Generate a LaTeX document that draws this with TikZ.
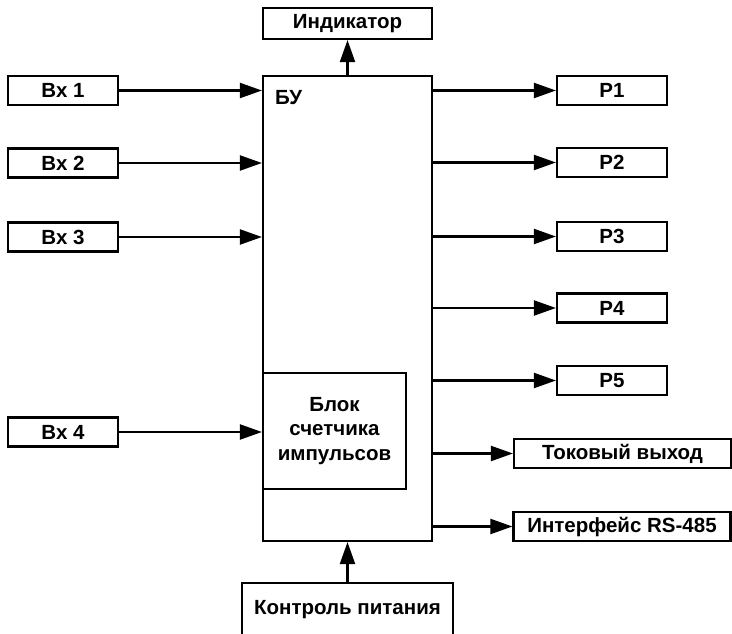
\documentclass[tikz,border=0pt]{standalone}
\usepackage{fontspec}
\setmainfont{Liberation Sans}
\usetikzlibrary{arrows.meta}
\begin{document}
\begin{tikzpicture}[x=1pt,y=-1pt,
  box/.style={draw,line width=2.2pt,inner sep=0pt,font=\fontsize{20.5}{24}\selectfont\bfseries},
  arr/.style={line width=2.2pt,-{Triangle[length=22pt,width=15pt]}}]
\useasboundingbox (0,0) rectangle (732,634);
% main block
\node[box,minimum width=169pt,minimum height=465pt] (bu) at (347.5,308.5) {};
\node[anchor=north west,inner sep=0pt,font=\fontsize{20.5}{24}\selectfont\bfseries] (bul) at (275,90) {БУ};
\node[box,minimum width=143pt,minimum height=116pt,align=center,font=\fontsize{20.5}{24.5}\selectfont\bfseries] (inner) at (334.5,431) {Блок\\счетчика\\импульсов};
% top / bottom
\node[box,minimum width=169pt,minimum height=31pt] (ind) at (347.5,23.5) {Индикатор};
\node[box,minimum width=211pt,minimum height=54pt] (pwr) at (347.5,610) {Контроль питания};
% inputs
\node[box,minimum width=110pt,minimum height=29pt] (bx1) at (63,90.5) {Вх 1};
\node[box,minimum width=110pt,minimum height=29pt] (bx2) at (63,163) {Вх 2};
\node[box,minimum width=110pt,minimum height=29pt] (bx3) at (63,237) {Вх 3};
\node[box,minimum width=110pt,minimum height=29pt] (bx4) at (63,432) {Вх 4};
% outputs
\node[box,minimum width=110pt,minimum height=29pt] (p1) at (612,90.5) {Р1};
\node[box,minimum width=110pt,minimum height=29pt] (p2) at (612,162.5) {Р2};
\node[box,minimum width=110pt,minimum height=29pt] (p3) at (612,236.5) {Р3};
\node[box,minimum width=110pt,minimum height=29pt] (p4) at (612,308) {Р4};
\node[box,minimum width=110pt,minimum height=29pt] (p5) at (612,380.5) {Р5};
\node[box,minimum width=217pt,minimum height=29pt] (tok) at (622.5,453.5) {Токовый выход};
\node[box,minimum width=217pt,minimum height=29pt] (rs) at (622,526.5) {Интерфейс RS-485};
% connectors
\draw[arr] (bu.north) -- (ind.south);
\draw[arr] (pwr.north) -- (bu.south);
\draw[arr] (bx1.east) -- (bx1.east -| bu.west);
\draw[arr] (bx2.east) -- (bx2.east -| bu.west);
\draw[arr] (bx3.east) -- (bx3.east -| bu.west);
\draw[arr] (bx4.east) -- (bx4.east -| inner.west);
\draw[arr] (p1.west -| bu.east) -- (p1.west);
\draw[arr] (p2.west -| bu.east) -- (p2.west);
\draw[arr] (p3.west -| bu.east) -- (p3.west);
\draw[arr] (p4.west -| bu.east) -- (p4.west);
\draw[arr] (p5.west -| bu.east) -- (p5.west);
\draw[arr] (tok.west -| bu.east) -- (tok.west);
\draw[arr] (rs.west -| bu.east) -- (rs.west);
\end{tikzpicture}
\end{document}
